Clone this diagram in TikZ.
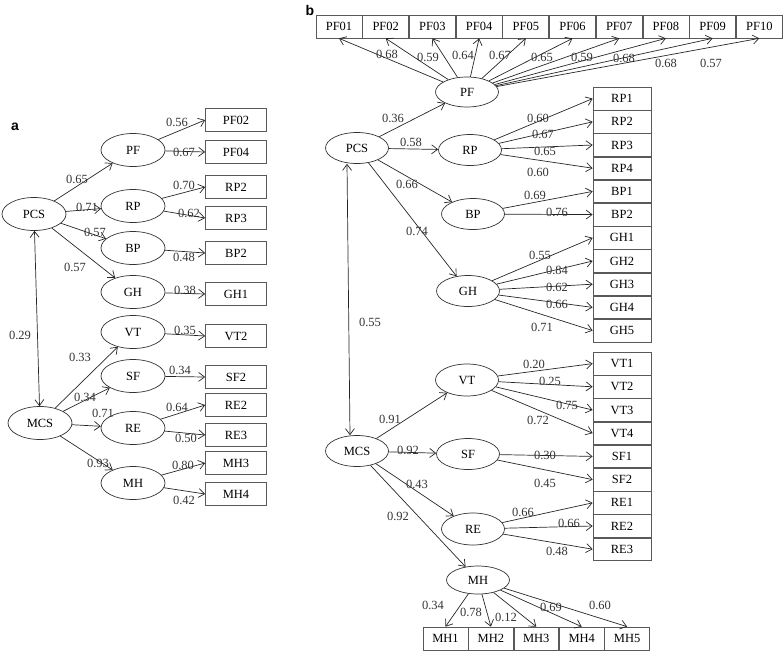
\documentclass[tikz,border=0pt]{standalone}
\usepackage{fontspec}
\setmainfont{Liberation Serif}
\newfontfamily\panelfont{Liberation Sans}
\usetikzlibrary{arrows.meta,positioning,shapes.geometric}

\begin{document}
\begin{tikzpicture}[x=1pt,y=-1pt,
    lat/.style={draw=black!80, line width=0.7pt, ellipse, minimum width=64pt, minimum height=33pt, inner sep=0pt, font=\fontsize{12.5}{14}\selectfont},
    ind/.style={draw=black!65, line width=0.7pt, rectangle, minimum width=61pt, minimum height=23pt, inner sep=0pt, font=\fontsize{12.5}{14}\selectfont},
    indb/.style={ind, minimum width=58pt, minimum height=22.5pt},
    indt/.style={ind, minimum width=46pt},
    indm/.style={ind, minimum width=44.7pt},
    lbl/.style={inner sep=0pt, text=black!80, font=\fontsize{12.5}{14}\selectfont},
    arr/.style={draw=black!85, line width=0.7pt, -{Straight Barb[length=6pt,width=9pt]}},
    dbl/.style={arr, {Straight Barb[length=6pt,width=9pt]}-{Straight Barb[length=6pt,width=9pt]}}]

\useasboundingbox (0,0) rectangle (784,651);

% panel a
\node[font=\panelfont\bfseries\fontsize{14}{16}\selectfont] (pa) at (15,127) {a};

\node[lat] (aPCS) at (34,214) {PCS};
\node[lat] (aMCS) at (40,423) {MCS};
\node[lat] (aPF) at (133,150) {PF};
\node[lat] (aRP) at (133,206) {RP};
\node[lat] (aBP) at (133,248) {BP};
\node[lat] (aGH) at (133,292) {GH};
\node[lat] (aVT) at (133,332) {VT};
\node[lat] (aSF) at (133,376) {SF};
\node[lat] (aRE) at (133,428) {RE};
\node[lat] (aMH) at (133,483) {MH};

\node[ind] (aPF02) at (236,120) {PF02};
\node[ind] (aPF04) at (236,152) {PF04};
\node[ind] (aRP2) at (236,187) {RP2};
\node[ind] (aRP3) at (236,218) {RP3};
\node[ind] (aBP2) at (236,253) {BP2};
\node[ind] (aGH1) at (236,294) {GH1};
\node[ind] (aVT2) at (236,336) {VT2};
\node[ind] (aSF2) at (236,377) {SF2};
\node[ind] (aRE2) at (236,405) {RE2};
\node[ind] (aRE3) at (236,435) {RE3};
\node[ind] (aMH3) at (236,463) {MH3};
\node[ind] (aMH4) at (236,494) {MH4};

\draw[dbl] (aPCS) -- (aMCS);
\draw[arr] (aPCS) -- (aPF);
\draw[arr] (aPCS) -- (aRP);
\draw[arr] (aPCS) -- (aBP);
\draw[arr] (aPCS) -- (aGH);
\draw[arr] (aMCS) -- (aVT);
\draw[arr] (aMCS) -- (aSF);
\draw[arr] (aMCS) -- (aRE);
\draw[arr] (aMCS) -- (aMH);

\draw[arr] (aPF) -- (aPF02.west);
\draw[arr] (aPF) -- (aPF04.west);
\draw[arr] (aRP) -- (aRP2.west);
\draw[arr] (aRP) -- (aRP3.west);
\draw[arr] (aBP) -- (aBP2.west);
\draw[arr] (aGH) -- (aGH1.west);
\draw[arr] (aVT) -- (aVT2.west);
\draw[arr] (aSF) -- (aSF2.west);
\draw[arr] (aRE) -- (aRE2.west);
\draw[arr] (aRE) -- (aRE3.west);
\draw[arr] (aMH) -- (aMH3.west);
\draw[arr] (aMH) -- (aMH4.west);

\node[lbl] (la1) at (77,179) {0.65};
\node[lbl] (la2) at (87,207) {0.71};
\node[lbl] (la3) at (95,232) {0.57};
\node[lbl] (la4) at (75,267) {0.57};
\node[lbl] (la5) at (20,335) {0.29};
\node[lbl] (la6) at (80,357) {0.33};
\node[lbl] (la7) at (85,397) {0.34};
\node[lbl] (la8) at (103,413) {0.71};
\node[lbl] (la9) at (98,463) {0.93};
\node[lbl] (la10) at (177,122) {0.56};
\node[lbl] (la11) at (184,152) {0.67};
\node[lbl] (la12) at (184,185) {0.70};
\node[lbl] (la13) at (189,213) {0.62};
\node[lbl] (la14) at (184,257) {0.48};
\node[lbl] (la15) at (185,290) {0.38};
\node[lbl] (la16) at (185,330) {0.35};
\node[lbl] (la17) at (180,370) {0.34};
\node[lbl] (la18) at (177,407) {0.64};
\node[lbl] (la19) at (186,438) {0.50};
\node[lbl] (la20) at (183,465) {0.80};
\node[lbl] (la21) at (184,500) {0.42};

% panel b
\node[font=\panelfont\bfseries\fontsize{14}{16}\selectfont] (pb) at (310,10) {b};

\node[lat, minimum width=63pt, minimum height=31pt] (bPCS) at (357,148) {PCS};
\node[lat, minimum width=63pt, minimum height=31pt] (bMCS) at (357,451) {MCS};
\node[lat, minimum width=63pt, minimum height=30pt] (bPF) at (467,92) {PF};
\node[lat, minimum width=63pt, minimum height=31pt] (bRP) at (470,150) {RP};
\node[lat, minimum width=63pt, minimum height=31pt] (bBP) at (473,214) {BP};
\node[lat, minimum width=63pt, minimum height=31pt] (bGH) at (468,291) {GH};
\node[lat, minimum width=63pt, minimum height=32pt] (bVT) at (467,380) {VT};
\node[lat, minimum width=63pt, minimum height=31pt] (bSF) at (468,454) {SF};
\node[lat, minimum width=63pt, minimum height=32pt] (bRE) at (473,529) {RE};
\node[lat, minimum width=63pt, minimum height=28pt] (bMH) at (478,580) {MH};

\node[indt] (bPF01) at (339,26.5) {PF01};
\node[indt, right=0pt of bPF01] (bPF02) {PF02};
\node[indt, right=0pt of bPF02] (bPF03) {PF03};
\node[indt, right=0pt of bPF03] (bPF04) {PF04};
\node[indt, right=0pt of bPF04] (bPF05) {PF05};
\node[indt, right=0pt of bPF05] (bPF06) {PF06};
\node[indt, right=0pt of bPF06] (bPF07) {PF07};
\node[indt, right=0pt of bPF07] (bPF08) {PF08};
\node[indt, right=0pt of bPF08] (bPF09) {PF09};
\node[indt, right=0pt of bPF09] (bPF10) {PF10};

\node[indb] (bRP1) at (622,98.6) {RP1};
\node[indb, below=0pt of bRP1] (bRP2) {RP2};
\node[indb, below=0pt of bRP2] (bRP3) {RP3};
\node[indb, below=0pt of bRP3] (bRP4) {RP4};
\node[indb, below=0pt of bRP4] (bBP1) {BP1};
\node[indb, below=0pt of bBP1] (bBP2) {BP2};
\node[indb, below=0pt of bBP2] (bGH1) {GH1};
\node[indb, below=0pt of bGH1] (bGH2) {GH2};
\node[indb, below=0pt of bGH2] (bGH3) {GH3};
\node[indb, below=0pt of bGH3] (bGH4) {GH4};
\node[indb, below=0pt of bGH4] (bGH5) {GH5};

\node[indb] (bVT1) at (622,363.6) {VT1};
\node[indb, below=0pt of bVT1] (bVT2) {VT2};
\node[indb, below=0pt of bVT2] (bVT3) {VT3};
\node[indb, below=0pt of bVT3] (bVT4) {VT4};
\node[indb, below=0pt of bVT4] (bSF1) {SF1};
\node[indb, below=0pt of bSF1] (bSF2) {SF2};
\node[indb, below=0pt of bSF2] (bRE1) {RE1};
\node[indb, below=0pt of bRE1] (bRE2) {RE2};
\node[indb, below=0pt of bRE2] (bRE3) {RE3};

\node[indm] (bMH1) at (445.5,638.5) {MH1};
\node[indm, right=0pt of bMH1] (bMH2) {MH2};
\node[indm, right=0pt of bMH2] (bMH3) {MH3};
\node[indm, right=0pt of bMH3] (bMH4) {MH4};
\node[indm, right=0pt of bMH4] (bMH5) {MH5};

\draw[dbl] ([xshift=-10pt]bPCS.south) -- ([xshift=-7pt]bMCS.north);
\draw[arr] (bPCS) -- (bPF);
\draw[arr] (bPCS) -- (bRP);
\draw[arr] (bPCS) -- (bBP);
\draw[arr] (bPCS) -- (bGH);
\draw[arr] (bMCS) -- (bVT);
\draw[arr] (bMCS) -- (bSF);
\draw[arr] (bMCS) -- (bRE);
\draw[arr] (bMCS) -- (bMH);

\draw[arr] (bPF) -- (bPF01.south);
\draw[arr] (bPF) -- (bPF02.south);
\draw[arr] (bPF) -- (bPF03.south);
\draw[arr] (bPF) -- (bPF04.south);
\draw[arr] (bPF) -- (bPF05.south);
\draw[arr] (bPF) -- (bPF06.south);
\draw[arr] (bPF) -- (bPF07.south);
\draw[arr] (bPF) -- (bPF08.south);
\draw[arr] (bPF) -- (bPF09.south);
\draw[arr] (bPF) -- (bPF10.south);

\draw[arr] (bRP) -- (bRP1.west);
\draw[arr] (bRP) -- (bRP2.west);
\draw[arr] (bRP) -- (bRP3.west);
\draw[arr] (bRP) -- (bRP4.west);
\draw[arr] (bBP) -- (bBP1.west);
\draw[arr] (bBP) -- (bBP2.west);
\draw[arr] (bGH) -- (bGH1.west);
\draw[arr] (bGH) -- (bGH2.west);
\draw[arr] (bGH) -- (bGH3.west);
\draw[arr] (bGH) -- (bGH4.west);
\draw[arr] (bGH) -- (bGH5.west);
\draw[arr] (bVT) -- (bVT1.west);
\draw[arr] (bVT) -- (bVT2.west);
\draw[arr] (bVT) -- (bVT3.west);
\draw[arr] (bVT) -- (bVT4.west);
\draw[arr] (bSF) -- (bSF1.west);
\draw[arr] (bSF) -- (bSF2.west);
\draw[arr] (bRE) -- (bRE1.west);
\draw[arr] (bRE) -- (bRE2.west);
\draw[arr] (bRE) -- (bRE3.west);

\draw[arr] (bMH) -- (bMH1.north);
\draw[arr] (bMH) -- (bMH2.north);
\draw[arr] (bMH) -- (bMH3.north);
\draw[arr] (bMH) -- (bMH4.north);
\draw[arr] (bMH) -- (bMH5.north);

\node[lbl] (lb1) at (387,54) {0.68};
\node[lbl] (lb2) at (428,57) {0.59};
\node[lbl] (lb3) at (463,55) {0.64};
\node[lbl] (lb4) at (500,55) {0.67};
\node[lbl] (lb5) at (542,57) {0.65};
\node[lbl] (lb6) at (582,57) {0.59};
\node[lbl] (lb7) at (624,58) {0.68};
\node[lbl] (lb8) at (666,63) {0.68};
\node[lbl] (lb9) at (711,63) {0.57};
\node[lbl] (lb10) at (393,118) {0.36};
\node[lbl] (lb11) at (411,142) {0.58};
\node[lbl] (lb12) at (407,184) {0.66};
\node[lbl] (lb13) at (417,231) {0.74};
\node[lbl] (lb14) at (538,118) {0.60};
\node[lbl] (lb15) at (543,134) {0.67};
\node[lbl] (lb16) at (545,151) {0.65};
\node[lbl] (lb17) at (538,172) {0.60};
\node[lbl] (lb18) at (535,195) {0.69};
\node[lbl] (lb19) at (557,212) {0.76};
\node[lbl] (lb20) at (540,255) {0.55};
\node[lbl] (lb21) at (557,270) {0.84};
\node[lbl] (lb22) at (557,287) {0.62};
\node[lbl] (lb23) at (557,304) {0.66};
\node[lbl] (lb24) at (542,327) {0.71};
\node[lbl] (lb25) at (370,322) {0.55};
\node[lbl] (lb26) at (534,364) {0.20};
\node[lbl] (lb27) at (550,381) {0.25};
\node[lbl] (lb28) at (567,405) {0.75};
\node[lbl] (lb29) at (538,420) {0.72};
\node[lbl] (lb30) at (390,419) {0.91};
\node[lbl] (lb31) at (408,450) {0.92};
\node[lbl] (lb32) at (417,484) {0.43};
\node[lbl] (lb33) at (398,516) {0.92};
\node[lbl] (lb34) at (545,455) {0.30};
\node[lbl] (lb35) at (545,483) {0.45};
\node[lbl] (lb36) at (523,512) {0.66};
\node[lbl] (lb37) at (569,523) {0.66};
\node[lbl] (lb38) at (557,551) {0.48};
\node[lbl] (lb39) at (433,605) {0.34};
\node[lbl] (lb40) at (471,612) {0.78};
\node[lbl] (lb41) at (506,617) {0.12};
\node[lbl] (lb42) at (551,607) {0.69};
\node[lbl] (lb43) at (600,605) {0.60};

\end{tikzpicture}
\end{document}
